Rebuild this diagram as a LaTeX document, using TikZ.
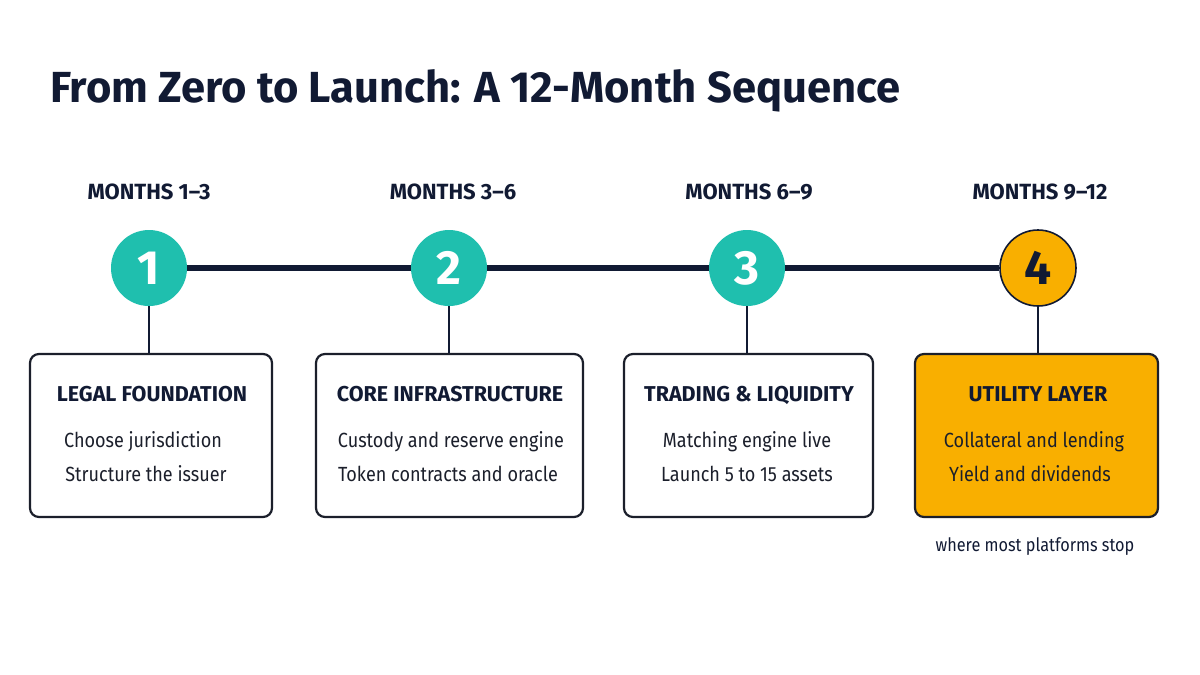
\documentclass[tikz,border=0pt]{standalone}
\usepackage{fontspec}
\setmainfont{Fira Sans}
\newfontfamily\narrowsans[FakeStretch=0.88]{Fira Sans}
\definecolor{navy}{HTML}{111A33}
\definecolor{teal}{HTML}{1FBFAE}
\definecolor{amber}{HTML}{F9AF00}
\definecolor{ink}{HTML}{1B1F2B}
\begin{document}
\begin{tikzpicture}[x=1pt,y=-1pt,
  stepcircle/.style={circle,minimum size=76pt,inner sep=0pt,fill=teal,text=white,font=\fontsize{48}{48}\selectfont\bfseries},
  lastcircle/.style={circle,minimum size=76pt,inner sep=0pt,fill=amber,draw=navy,line width=1.6pt,text=navy,font=\fontsize{48}{48}\selectfont\bfseries},
  monthlbl/.style={text=navy,font=\fontsize{22}{22}\selectfont\bfseries,anchor=base},
  card/.style={draw=ink,line width=2.2pt,rounded corners=9pt,fill=white},
  cardtitle/.style={text=navy,font=\fontsize{21.5}{21.5}\selectfont\bfseries,anchor=base},
  cardline/.style={text=ink,font=\narrowsans\fontsize{20.5}{20.5}\selectfont,anchor=base},
  stem/.style={draw=navy,line width=2.6pt},
  spine/.style={draw=navy,line width=6pt}]
\useasboundingbox (0,0) rectangle (1200,675);
\fill[white] (0,0) rectangle (1200,675);
\node[anchor=base west,text=navy,inner sep=0pt,font=\fontsize{43.5}{43.5}\selectfont\bfseries] (title) at (50,102) {From Zero to Launch: A 12-Month Sequence};
% month labels
\node[monthlbl] (m1) at (149,199) {MONTHS 1–3};
\node[monthlbl] (m2) at (453,199) {MONTHS 3–6};
\node[monthlbl] (m3) at (749,199) {MONTHS 6–9};
\node[monthlbl] (m4) at (1040,199) {MONTHS 9–12};
% circles
\node[stepcircle] (c1) at (149,268) {1};
\node[stepcircle] (c2) at (449,268) {2};
\node[stepcircle] (c3) at (747,268) {3};
\node[lastcircle] (c4) at (1038,268) {4};
\draw[spine] (c1.east) -- (c2.west);
\draw[spine] (c2.east) -- (c3.west);
\draw[spine] (c3.east) -- (c4.west);
% cards
\node[card,minimum width=242pt,minimum height=163pt,inner sep=0pt] (b1) at (151,435.5) {};
\node[card,minimum width=267pt,minimum height=163pt,inner sep=0pt] (b2) at (449.5,435.5) {};
\node[card,minimum width=249pt,minimum height=163pt,inner sep=0pt] (b3) at (748.5,435.5) {};
\node[card,fill=amber,minimum width=243pt,minimum height=163pt,inner sep=0pt] (b4) at (1036.5,435.5) {};
\draw[stem] (c1.south) -- (c1.south |- b1.north);
\draw[stem] (c2.south) -- (c2.south |- b2.north);
\draw[stem] (c3.south) -- (c3.south |- b3.north);
\draw[stem] (c4.south) -- (c4.south |- b4.north);
% card texts
\node[cardtitle] (t1) at (152,401) {LEGAL FOUNDATION};
\node[cardline] (l1a) at (143,447) {Choose jurisdiction};
\node[cardline] (l1b) at (146,481) {Structure the issuer};
\node[cardtitle] (t2) at (450,401) {CORE INFRASTRUCTURE};
\node[cardline] (l2a) at (451,447) {Custody and reserve engine};
\node[cardline] (l2b) at (448,481) {Token contracts and oracle};
\node[cardtitle] (t3) at (749,401) {TRADING \& LIQUIDITY};
\node[cardline] (l3a) at (747,447) {Matching engine live};
\node[cardline] (l3b) at (747,481) {Launch 5 to 15 assets};
\node[cardtitle] (t4) at (1038,401) {UTILITY LAYER};
\node[cardline] (l4a) at (1034,447) {Collateral and lending};
\node[cardline] (l4b) at (1030,481) {Yield and dividends};
\node[text=navy,font=\narrowsans\fontsize{18.5}{18.5}\selectfont,anchor=base] (note) at (1035,551) {where most platforms stop};
\end{tikzpicture}
\end{document}
